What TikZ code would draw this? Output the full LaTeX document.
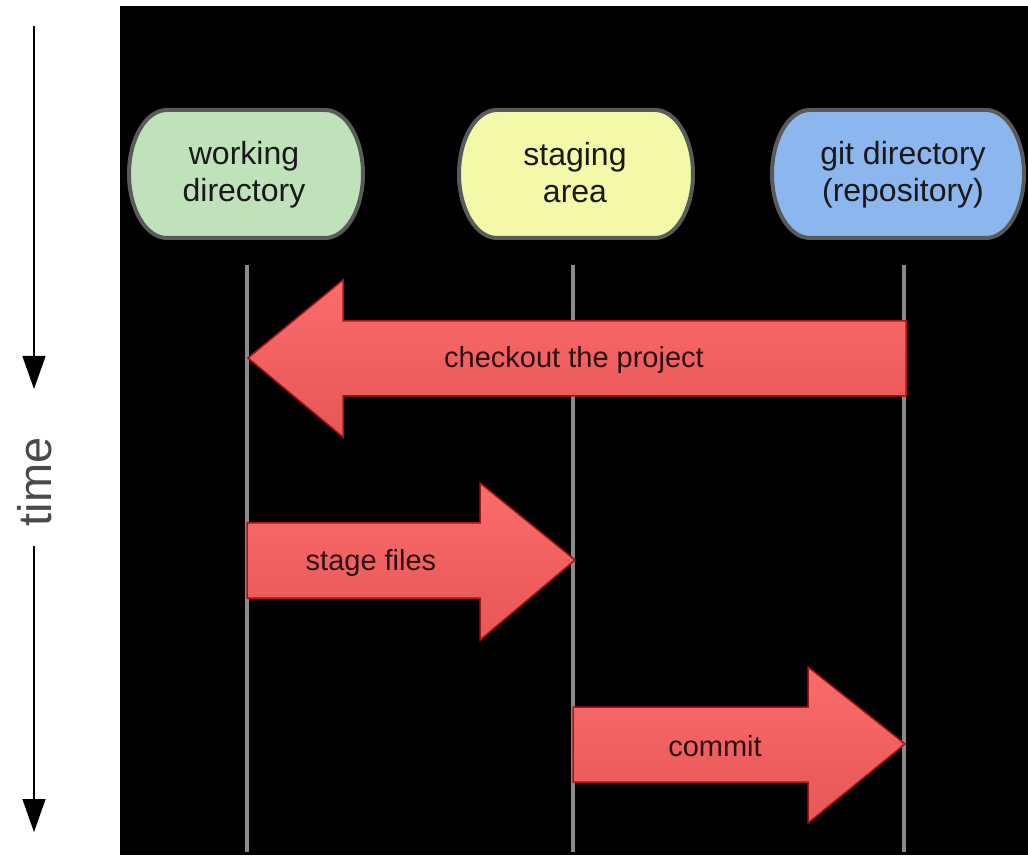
\documentclass[tikz,border=0pt]{standalone}
\usepackage{fontspec}
\setmainfont{Liberation Sans}
\usetikzlibrary{arrows.meta}
\definecolor{wdfill}{HTML}{BFE2BB}
\definecolor{safill}{HTML}{F3F9A8}
\definecolor{gdfill}{HTML}{8CB6EE}
\definecolor{boxline}{HTML}{5A5A5A}
\definecolor{lifeline}{HTML}{8A8A8A}
\definecolor{redtop}{HTML}{FA6C6C}
\definecolor{redbot}{HTML}{E85656}
\definecolor{redline}{HTML}{A81414}
\definecolor{labeltext}{HTML}{2A1010}
\definecolor{timegray}{HTML}{4A4A4A}
\tikzset{
  lanebox/.style={draw=boxline, line width=4pt},
  boxtext/.style={align=center, inner sep=0pt, text=black!90, font=\fontsize{32}{37}\selectfont},
  lifeln/.style={draw=lifeline, line width=4pt},
  bigarrow/.style={draw=redline, line width=1.5pt, top color=redtop, bottom color=redbot, line join=miter},
  arrowlabel/.style={anchor=base, inner sep=0pt, text=labeltext, font=\fontsize{29}{34}\selectfont},
  timearrow/.style={draw=black, line width=1.4pt, -{Triangle[length=33pt,width=23pt]}},
  timelabel/.style={rotate=90, inner sep=0pt, text=timegray, font=\fontsize{47}{52}\selectfont}
}
\begin{document}
\begin{tikzpicture}[x=1pt,y=1pt]
\useasboundingbox (0,0) rectangle (1028,855);
\fill[white] (0,0) rectangle (1028,855);
\fill[black] (120,0) rectangle (1028,849);

% time axis
\coordinate (t1s) at (34,829);
\coordinate (t1e) at (34,466);
\coordinate (t2s) at (34,309);
\coordinate (t2e) at (34,23);
\draw[timearrow] (t1s) -- (t1e);
\draw[timearrow] (t2s) -- (t2e);
\node[timelabel] (time) at (35,373) {time};

% lifelines
\coordinate (wdtop) at (247,590); \coordinate (wdbot) at (247,3);
\coordinate (satop) at (573,590); \coordinate (sabot) at (573,3);
\coordinate (gdtop) at (904,590); \coordinate (gdbot) at (904,3);
\draw[lifeln] (wdtop) -- (wdbot);
\draw[lifeln] (satop) -- (sabot);
\draw[lifeln] (gdtop) -- (gdbot);

% boxes
\path[lanebox, fill=wdfill] (167,745) -- (325,745) arc[start angle=90,end angle=-90,x radius=38,y radius=64] -- (167,617) arc[start angle=270,end angle=90,x radius=38,y radius=64] -- cycle;
\path[lanebox, fill=safill] (497,745) -- (655,745) arc[start angle=90,end angle=-90,x radius=38,y radius=64] -- (497,617) arc[start angle=270,end angle=90,x radius=38,y radius=64] -- cycle;
\path[lanebox, fill=gdfill] (810,745) -- (986,745) arc[start angle=90,end angle=-90,x radius=38,y radius=64] -- (810,617) arc[start angle=270,end angle=90,x radius=38,y radius=64] -- cycle;
\node[boxtext] (wd) at (244,680) {working\\directory};
\node[boxtext] (sa) at (575,682) {staging\\area};
\node[boxtext] (gd) at (903,680) {git directory\\(repository)};

% big arrows
\path[bigarrow] (906,534) -- (343,534) -- (343,575) -- (248,497) -- (343,418) -- (343,459) -- (906,459) -- cycle;
\path[bigarrow] (247,332) -- (480,332) -- (480,372) -- (575,295) -- (480,215) -- (480,257) -- (247,257) -- cycle;
\path[bigarrow] (573,148) -- (808,148) -- (808,188) -- (905,111) -- (808,32) -- (808,73) -- (573,73) -- cycle;
\node[arrowlabel] (checkout) at (574,487) {checkout the project};
\node[arrowlabel] (stage) at (371,285) {stage files};
\node[arrowlabel] (commit) at (715,99) {commit};
\end{tikzpicture}
\end{document}
